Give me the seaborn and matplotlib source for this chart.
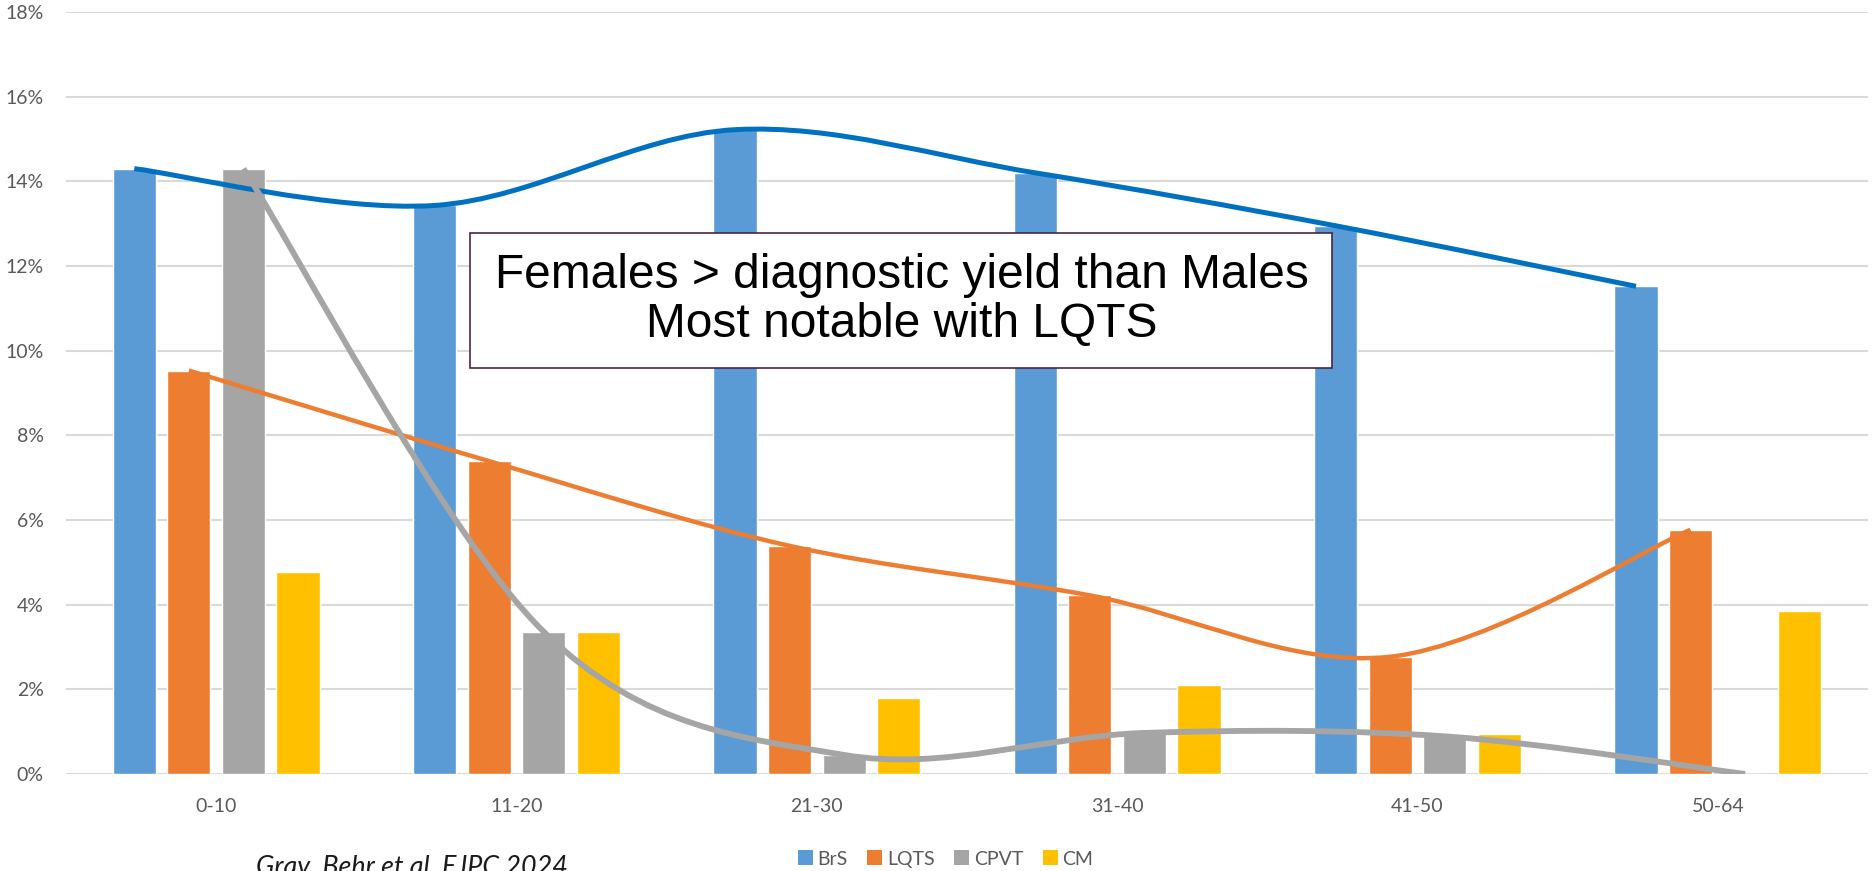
import numpy as np
import pandas as pd
import matplotlib
matplotlib.use("Agg")
import matplotlib.pyplot as plt
import seaborn as sns
from matplotlib.path import Path
from matplotlib.patches import PathPatch, Rectangle, Patch
from matplotlib.ticker import FuncFormatter

# diagnostic yield (%) by age group
age_groups = ["0-10", "11-20", "21-30", "31-40", "41-50", "50-64"]
brs = [14.3, 13.43, 15.22, 14.2, 12.95, 11.52]
lqts = [9.53, 7.39, 5.39, 4.22, 2.77, 5.77]
cpvt = [14.3, 3.36, 0.45, 0.97, 0.89, 0.0]
cm = [4.77, 3.36, 1.8, 2.11, 0.94, 3.85]

series = ["BrS", "LQTS", "CPVT", "CM"]
bar_colors = ["#5B9BD5", "#ED7D31", "#A5A5A5", "#FFC000"]

W, H = 1873, 871

df = pd.DataFrame({
    "age": age_groups * 4,
    "yield": brs + lqts + cpvt + cm,
    "disease": [s for s in series for _ in age_groups],
})

sns.set_style("white")
plt.rcParams["font.family"] = ["Lato", "DejaVu Sans"]

fig = plt.figure(figsize=(W / 100, H / 100), dpi=100)
ax = fig.add_axes([66 / W, 1 - 774 / H, (1868 - 66) / W, (774 - 12) / H])

group_w = 0.727
sns.barplot(data=df, x="age", y="yield", hue="disease", hue_order=series,
            palette=bar_colors, width=group_w, gap=0.21, saturation=1,
            legend=False, ax=ax, zorder=2)

ax.set_ylim(0, 18)
ax.set_xlim(-0.5, len(age_groups) - 0.5)
ax.set_yticks(range(0, 19, 2))
ax.yaxis.set_major_formatter(FuncFormatter(lambda v, p: f"{int(v)}%"))
ax.yaxis.grid(True, color="#D9D9D9", lw=1.5)
ax.set_axisbelow(True)
for sp in ax.spines.values():
    sp.set_visible(False)
ax.set_xlabel("")
ax.set_ylabel("")
ax.tick_params(axis="y", length=0, pad=16, labelsize=14, labelcolor="#595959")
ax.tick_params(axis="x", length=0, pad=17, labelsize=14, labelcolor="#595959")


def smooth_path(xs, ys):
    # Catmull-Rom style bezier through the points (like Excel's smoothed line)
    pts = np.column_stack([xs, ys])
    n = len(pts)
    verts = [pts[0]]
    codes = [Path.MOVETO]
    for i in range(n - 1):
        p_prev = pts[max(i - 1, 0)]
        p0, p1 = pts[i], pts[i + 1]
        p_next = pts[min(i + 2, n - 1)]
        verts += [p0 + (p1 - p_prev) / 6, p1 - (p_next - p0) / 6, p1]
        codes += [Path.CURVE4] * 3
    return Path(verts, codes)


slot = group_w / len(series)
x_idx = np.arange(len(age_groups))
trends = [(brs, 0, "#0070C0", 3.6), (lqts, 1, "#ED7D31", 3.2), (cpvt, 2, "#A5A5A5", 4.2)]
for vals, k, col, lw in trends:
    xs = x_idx + (k - 1.5) * slot
    ax.add_patch(PathPatch(smooth_path(xs, vals), fill=False, edgecolor=col,
                           lw=lw, zorder=3, capstyle="butt"))

# annotation box
fig.add_artist(Rectangle((470 / W, 1 - 368 / H), 862 / W, 135 / H,
                         transform=fig.transFigure, facecolor="white",
                         edgecolor="#4B2546", lw=1.2, zorder=5))
fig.text(902 / W, 1 - 300 / H,
         "Females > diagnostic yield than Males\nMost notable with LQTS",
         ha="center", va="center", fontsize=34.5, color="black", linespacing=1.1,
         family=["Liberation Sans", "DejaVu Sans"], zorder=6)

handles = [Patch(facecolor=c, edgecolor="none") for c in bar_colors]
fig.legend(handles, series, loc="center", bbox_to_anchor=(945.5 / W, 1 - 859 / H),
           ncol=4, frameon=False, fontsize=14, handlelength=0.77, handleheight=0.77,
           handletextpad=0.25, columnspacing=1.0, labelcolor="#595959",
           borderaxespad=0, borderpad=0)

fig.text(256 / W, 1 - 855 / H, "Gray, Behr et al. EJPC 2024", ha="left", va="top",
         fontsize=19.4, style="italic", color="#1A1A1A")

fig.savefig("out.png", dpi=100)
